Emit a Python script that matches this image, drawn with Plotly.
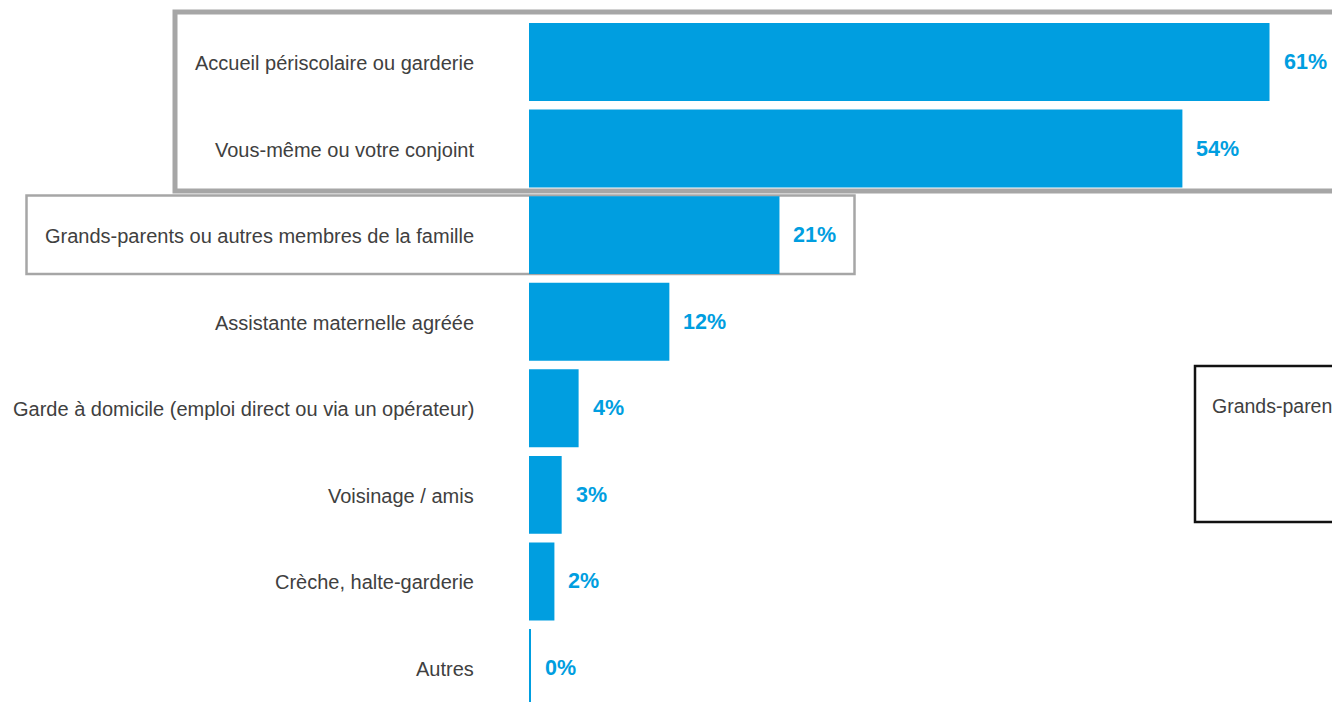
import plotly.graph_objects as go

categories = [
    "Accueil périscolaire ou garderie",
    "Vous-même ou votre conjoint",
    "Grands-parents ou autres membres de la famille",
    "Assistante maternelle agréée",
    "Garde à domicile (emploi direct ou via un opérateur)",
    "Voisinage / amis",
    "Crèche, halte-garderie",
    "Autres",
]
values = [61.2, 54.0, 20.7, 11.6, 4.1, 2.7, 2.1, 0.15]
value_labels = ["61%", "54%", "21%", "12%", "4%", "3%", "2%", "0%"]
side_box_text = "Grands-parents ou autres membres de la famille"

W, H = 1332, 702
BLUE = "#009EE0"
GREY_TXT = "#404040"
FONT = "Liberation Sans, Arial, sans-serif"

px_per_unit = 12.1
x0_px = 529
xrange = [-x0_px / px_per_unit, (W - x0_px) / px_per_unit]

pitch = 86.57
yrange = [7 + (H - 668) / pitch, -62 / pitch]

idx = list(range(len(categories)))

fig = go.Figure(go.Bar(
    x=values, y=idx, orientation="h",
    marker=dict(color=BLUE, line=dict(width=0)),
    hoverinfo="skip",
))

ann = []
for i, (c, v, t) in enumerate(zip(categories, values, value_labels)):
    ann.append(dict(x=476 / W, xref="paper", y=i, yref="y", text=c,
                    xanchor="right", yanchor="middle", showarrow=False, yshift=-1,
                    font=dict(family=FONT, size=20, color=GREY_TXT)))
    ann.append(dict(x=v, xref="x", y=i, yref="y", text="<b>%s</b>" % t,
                    xanchor="left", yanchor="middle", showarrow=False, xshift=12,
                    font=dict(family=FONT, size=21.5, color=BLUE)))

ann.append(dict(x=1210 / W, xref="paper", y=1 - 406 / H, yref="paper",
                text=side_box_text, xanchor="left", yanchor="middle",
                showarrow=False, font=dict(family=FONT, size=19.5, color=GREY_TXT)))

def px(x):
    return x / W

def py(y):
    return 1 - y / H

shapes = [
    dict(type="rect", xref="paper", yref="paper",
         x0=px(175), x1=px(1345), y0=py(12), y1=py(191),
         line=dict(color="#A6A6A6", width=5), fillcolor="rgba(0,0,0,0)", layer="below"),
    dict(type="rect", xref="paper", yref="paper",
         x0=px(26.5), x1=px(854.5), y0=py(195.5), y1=py(274),
         line=dict(color="#A6A6A6", width=2.5), fillcolor="rgba(0,0,0,0)", layer="below"),
    dict(type="rect", xref="paper", yref="paper",
         x0=px(1195), x1=px(1345), y0=py(366), y1=py(522),
         line=dict(color="#111111", width=2.5), fillcolor="rgba(0,0,0,0)", layer="below"),
]

fig.update_layout(
    width=W, height=H,
    margin=dict(l=0, r=0, t=0, b=0),
    paper_bgcolor="white", plot_bgcolor="white",
    bargap=0.1,
    showlegend=False,
    xaxis=dict(range=xrange, visible=False, fixedrange=True),
    yaxis=dict(range=yrange, visible=False, fixedrange=True),
    annotations=ann,
    shapes=shapes,
    font=dict(family=FONT),
)

fig.write_html("out.html", config={"displayModeBar": False},
               post_script="document.body.style.margin='0';document.body.style.overflow='hidden';")
